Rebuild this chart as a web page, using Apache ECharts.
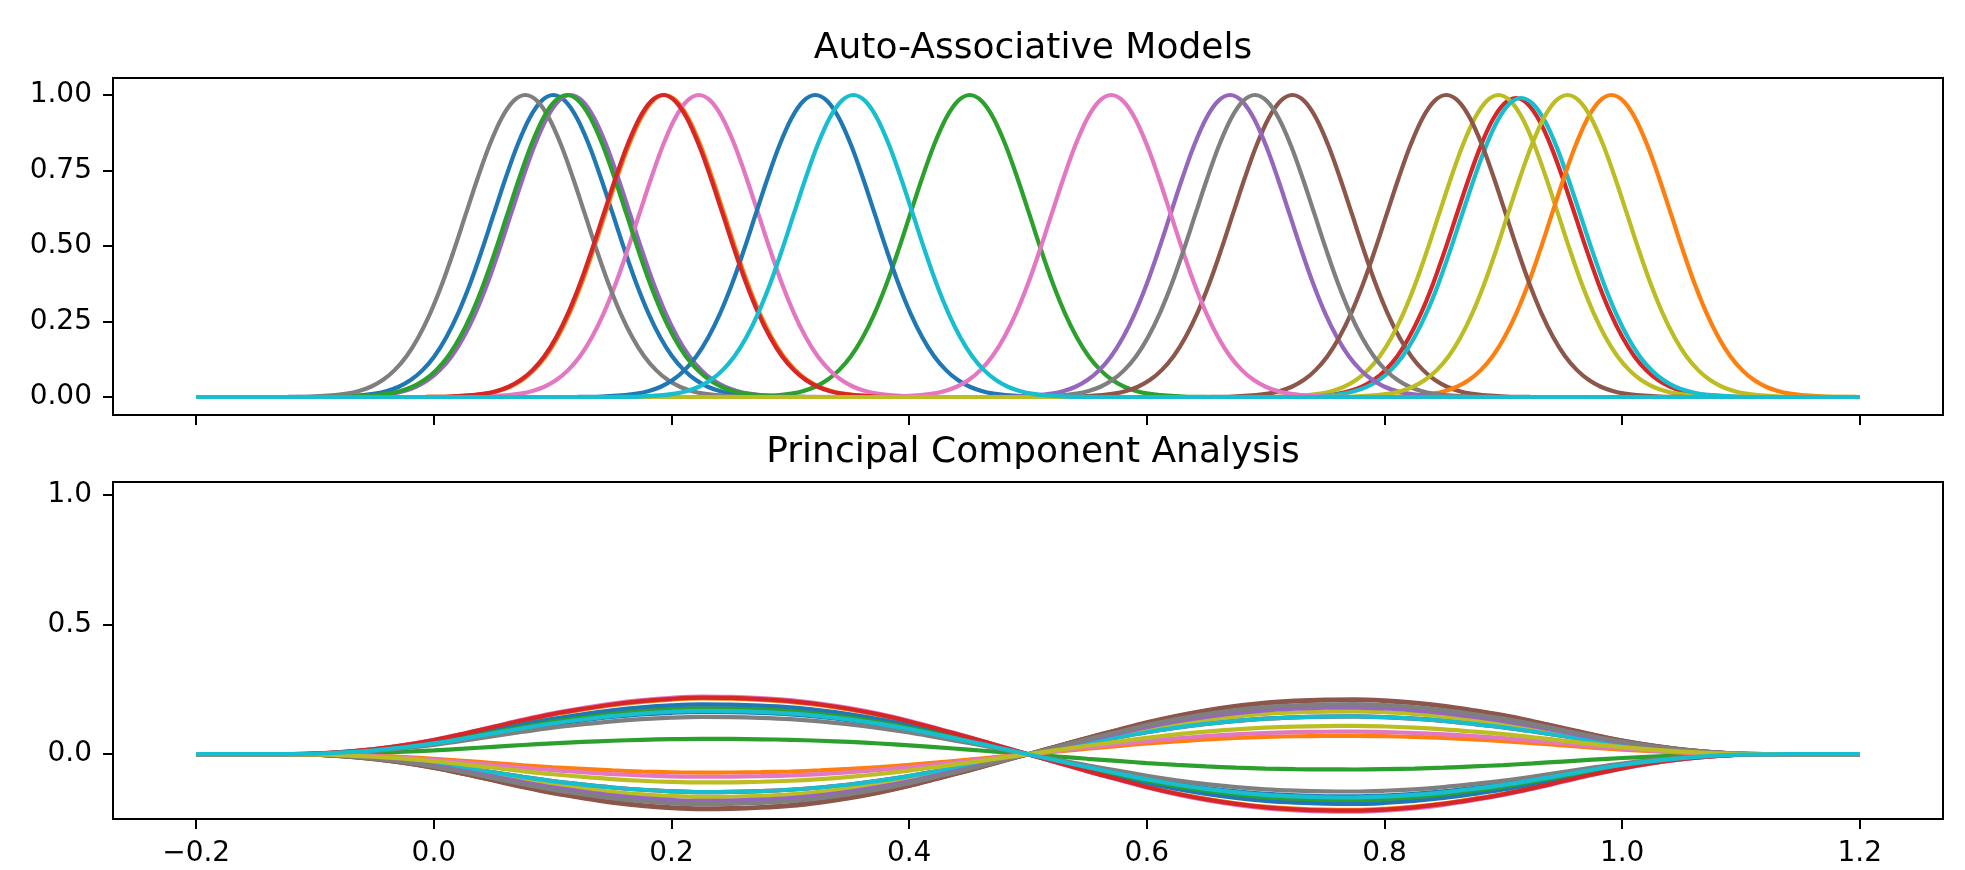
<!DOCTYPE html>
<html>
<head>
<meta charset="utf-8">
<title>Auto-Associative Models vs PCA</title>
<script src="https://cdn.jsdelivr.net/npm/echarts@6.0.0/dist/echarts.min.js"></script>
<style>
  html, body { margin: 0; padding: 0; background: #fff; }
  #chart { width: 1965px; height: 870px; }
</style>
</head>
<body>
<div id="chart"></div>
<script>
const FONT = 'DejaVu Sans';
const palette = ['#1f77b4', '#ff7f0e', '#2ca02c', '#d62728', '#9467bd',
                 '#8c564b', '#e377c2', '#7f7f7f', '#bcbd22', '#17becf'];

const xTicks = [-0.2, 0, 0.2, 0.4, 0.6, 0.8, 1.0, 1.2];
const topYTicks = [0, 0.25, 0.5, 0.75, 1.0];
const bottomYTicks = [0, 0.5, 1.0];

// top panel: centre and height of each bump, in plotting order
const bumpCenters = [0.1005, 0.1942, 0.451, 0.9105, 0.115, 0.7225, 0.223, 0.077, 0.896, 0.915,
                     0.321, 0.991, 0.112, 0.193, 0.670, 0.852, 0.570, 0.691, 0.954, 0.353];
const bumpPeaks = [1, 1, 1, 0.99, 1, 1, 1, 1, 1, 0.99,
                   1, 1, 1, 1, 1, 1, 1, 1, 1, 1];

// shape of one bump at 0.45
const bumpOffsets = [-0.25, -0.2, -0.18, -0.16, -0.15, -0.14, -0.13, -0.12, -0.11, -0.1,
                     -0.09, -0.08, -0.07, -0.06, -0.05, -0.04, -0.03, -0.02, -0.01, 0,
                     0.01, 0.02, 0.03, 0.04, 0.05, 0.06, 0.07, 0.08, 0.09, 0.1,
                     0.11, 0.12, 0.13, 0.14, 0.15, 0.16, 0.18, 0.2, 0.25];
const bumpProfile = [0, 0.0003, 0.0015, 0.006, 0.011, 0.020, 0.034, 0.056, 0.089, 0.135,
                     0.198, 0.278, 0.375, 0.487, 0.607, 0.726, 0.835, 0.923, 0.980, 1.000,
                     0.980, 0.923, 0.835, 0.726, 0.607, 0.487, 0.375, 0.278, 0.198, 0.135,
                     0.089, 0.056, 0.034, 0.020, 0.011, 0.006, 0.0015, 0.0003, 0];

// bottom panel: value of each curve at its left extremum (same order as above)
const pcaAmps = [0.163, 0.215, 0.059, -0.146, 0.178, -0.209, 0.222, 0.144, -0.165, -0.146,
                 0.192, -0.071, 0.176, 0.218, -0.180, -0.212, -0.087, -0.193, -0.109, 0.167];

// shared shape of the first principal component
const pcaX = [-0.2, -0.15, -0.125, -0.1, -0.075, -0.05, -0.025, 0, 0.025, 0.05,
              0.075, 0.1, 0.125, 0.15, 0.175, 0.2, 0.225, 0.25, 0.275, 0.3,
              0.325, 0.35, 0.375, 0.4, 0.425, 0.45, 0.475, 0.5, 0.525, 0.55,
              0.575, 0.6, 0.625, 0.65, 0.675, 0.7, 0.725, 0.75, 0.775, 0.8,
              0.825, 0.85, 0.875, 0.9, 0.925, 0.95, 0.975, 1.0, 1.025, 1.05,
              1.075, 1.1, 1.125, 1.15, 1.2];
const pcaShape = [0, 0, 0.002, 0.01, 0.04, 0.09, 0.16, 0.25, 0.36, 0.48,
                  0.6, 0.71, 0.8, 0.88, 0.94, 0.98, 1.0, 0.995, 0.975, 0.94,
                  0.88, 0.8, 0.7, 0.58, 0.44, 0.3, 0.15, 0, -0.15, -0.3,
                  -0.44, -0.58, -0.7, -0.8, -0.88, -0.94, -0.975, -0.995, -1.0, -0.98,
                  -0.94, -0.88, -0.8, -0.71, -0.6, -0.48, -0.36, -0.25, -0.16, -0.09,
                  -0.04, -0.01, -0.002, 0, 0];

function bumpData(center, peak) {
    let pts = [[-0.2, 0]];
    for (let i = 0; i < bumpOffsets.length; i++) {
        let x = center + bumpOffsets[i];
        if (x > -0.2 && x < 1.2) pts.push([x, bumpProfile[i] * peak]);
    }
    pts.push([1.2, 0]);
    return pts;
}

function pcaData(amp) {
    return pcaX.map((x, i) => [x, amp * pcaShape[i]]);
}

const minus = v => String(v).replace('-', '\u2212');

let series = [];
bumpCenters.forEach((c, i) => {
    series.push({
        type: 'line', xAxisIndex: 0, yAxisIndex: 0,
        data: bumpData(c, bumpPeaks[i]),
        showSymbol: false, smooth: 0.35, silent: true,
        lineStyle: {color: palette[i % 10], width: 4.2}
    });
});
pcaAmps.forEach((a, i) => {
    series.push({
        type: 'line', xAxisIndex: 1, yAxisIndex: 1,
        data: pcaData(a),
        showSymbol: false, smooth: 0.35, silent: true,
        lineStyle: {color: palette[i % 10], width: 4.2}
    });
});

const noLine = {show: false, onZero: false};
const tick = {show: true, length: 10, lineStyle: {color: '#000', width: 2}};
const label = {color: '#000', fontSize: 28, fontFamily: FONT, margin: 21};
const titleStyle = {fontFamily: FONT, fontSize: 36, fontWeight: 'normal', color: '#000'};

let chart = echarts.init(document.getElementById('chart'));
chart.setOption({
    animation: false,
    backgroundColor: '#fff',
    title: [
        {text: 'Auto-Associative Models', left: 1028, top: 26, textAlign: 'center', textStyle: titleStyle},
        {text: 'Principal Component Analysis', left: 1028, top: 430, textAlign: 'center', textStyle: titleStyle}
    ],
    grid: [
        {left: 113, top: 78, width: 1830, height: 337, show: true, borderColor: '#000', borderWidth: 2},
        {left: 113, top: 482, width: 1830, height: 337, show: true, borderColor: '#000', borderWidth: 2}
    ],
    xAxis: [
        {gridIndex: 0, type: 'value', position: 'bottom', min: -0.27, max: 1.27,
         axisLine: noLine, splitLine: {show: false},
         axisTick: {...tick, customValues: xTicks},
         axisLabel: {show: false}},
        {gridIndex: 1, type: 'value', position: 'bottom', min: -0.27, max: 1.27,
         axisLine: noLine, splitLine: {show: false},
         axisTick: {...tick, customValues: xTicks},
         axisLabel: {...label, customValues: xTicks, formatter: v => minus(v.toFixed(1))}}
    ],
    yAxis: [
        {gridIndex: 0, type: 'value', position: 'left', min: -0.0596, max: 1.0563,
         axisLine: noLine, splitLine: {show: false},
         axisTick: {...tick, customValues: topYTicks},
         axisLabel: {...label, customValues: topYTicks, formatter: v => v.toFixed(2)}},
        {gridIndex: 1, type: 'value', position: 'left', min: -0.25, max: 1.05,
         axisLine: noLine, splitLine: {show: false},
         axisTick: {...tick, customValues: bottomYTicks},
         axisLabel: {...label, customValues: bottomYTicks, formatter: v => v.toFixed(1)}}
    ],
    series: series
});
</script>
</body>
</html>
